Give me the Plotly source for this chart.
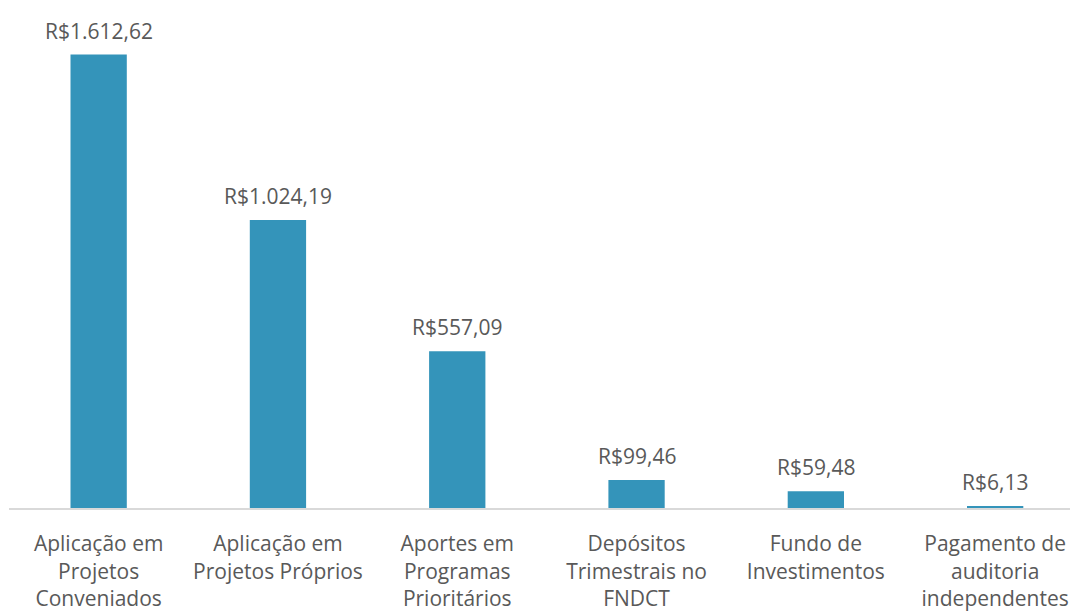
import plotly.graph_objects as go

categories = [
    "Aplicação em<br>Projetos<br>Conveniados",
    "Aplicação em<br>Projetos Próprios",
    "Aportes em<br>Programas<br>Prioritários",
    "Depósitos<br>Trimestrais no<br>FNDCT",
    "Fundo de<br>Investimentos",
    "Pagamento de<br>auditoria<br>independentes",
]
values = [1612.62, 1024.19, 557.09, 99.46, 59.48, 6.13]
value_labels = ["R$1.612,62", "R$1.024,19", "R$557,09", "R$99,46", "R$59,48", "R$6,13"]

FONT = "Open Sans"
TEXT_COLOR = "#595959"
BAR_COLOR = "#3494BA"
FS = 21

fig = go.Figure()
fig.add_trace(go.Bar(
    x=list(range(len(categories))),
    y=values,
    marker=dict(color=BAR_COLOR, line=dict(width=0)),
    width=0.314,
    hoverinfo="skip",
))

for i, (v, lab) in enumerate(zip(values, value_labels)):
    fig.add_annotation(
        x=i, y=v, text=lab, showarrow=False,
        yanchor="bottom", yshift=8,
        font=dict(family=FONT, size=FS, color=TEXT_COLOR),
    )

W, H = 1070, 612
L, R, T, B = 9, 0, 10, 99
plot_w = W - L - R
step = 179.3
fig.update_layout(
    width=W, height=H,
    margin=dict(l=L, r=R, t=T, b=B, pad=0),
    paper_bgcolor="white", plot_bgcolor="white",
    showlegend=False,
    font=dict(family=FONT, color=TEXT_COLOR, size=FS),
    xaxis=dict(
        tickmode="array",
        tickvals=list(range(len(categories))),
        ticktext=categories,
        range=[-0.5, -0.5 + plot_w / step],
        showline=True, linecolor="#d9d9d9", linewidth=2,
        showgrid=False, zeroline=False,
        ticks="", ticklabelstandoff=16,
        tickfont=dict(family=FONT, size=FS, color=TEXT_COLOR),
        fixedrange=True,
    ),
    yaxis=dict(
        range=[0, 1612.62 * (H - T - B) / 458],
        visible=False, showgrid=False, zeroline=False,
        fixedrange=True,
    ),
)

fig.write_html(
    "out.html",
    config={"displayModeBar": False},
    post_script="document.body.style.margin='0';document.body.style.overflow='hidden';",
)
